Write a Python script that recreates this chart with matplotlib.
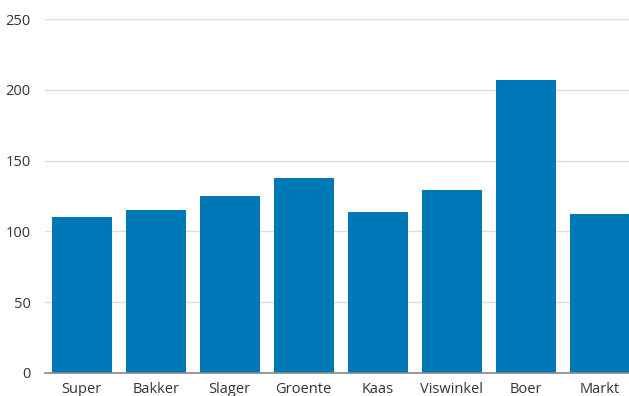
import numpy as np
import matplotlib.pyplot as plt

categories = ['Super', 'Bakker', 'Slager', 'Groente', 'Kaas', 'Viswinkel', 'Boer', 'Markt']
values = [110, 115, 125, 138, 114, 129, 207, 112]
y_ticks = [0, 50, 100, 150, 200, 250]

plt.rcParams['font.family'] = ['Open Sans', 'DejaVu Sans']

fig = plt.figure(figsize=(6.29, 3.96), dpi=100)
# axes runs slightly past the right edge, like the reference
ax = fig.add_axes([0.0711, 0.0588, 0.9412, 0.8925])

x = np.arange(len(categories))
ax.bar(x, values, width=0.81, color='#0077b6', zorder=3)

ax.set_xlim(-0.5, len(categories) - 0.5)
ax.set_ylim(0, 250)
ax.set_yticks(y_ticks)
ax.set_xticks(x)
ax.set_xticklabels(categories)

ax.grid(axis='y', color='#dddddd', linewidth=1, zorder=0)
for side in ['top', 'right', 'left']:
    ax.spines[side].set_visible(False)
ax.spines['bottom'].set_color('#888888')
ax.spines['bottom'].set_linewidth(1.2)
ax.spines['bottom'].set_zorder(4)

ax.tick_params(axis='both', length=0, labelsize=10.5, colors='#333333')
ax.tick_params(axis='y', pad=10)
ax.tick_params(axis='x', pad=7)

fig.savefig('out.png', dpi=100)
